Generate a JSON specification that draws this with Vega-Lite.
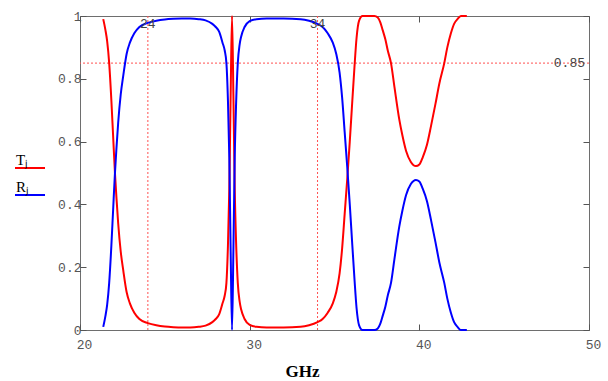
{
  "$schema": "https://vega.github.io/schema/vega-lite/v6.json",
  "width": 509,
  "height": 314,
  "autosize": "none",
  "padding": {"left": 80, "top": 16, "right": 19, "bottom": 51},
  "background": "white",
  "config": {
    "view": {"stroke": "#6e6e6e", "strokeWidth": 1},
    "axis": {
      "labelFont": "Liberation Mono",
      "labelFontSize": 13,
      "labelColor": "#555555",
      "tickColor": "#555555",
      "domain": false,
      "grid": false,
      "tickSize": -6,
      "tickWidth": 1,
      "labelFlush": false,
      "labelOverlap": false
    },
    "legend": {
      "symbolType": "stroke",
      "symbolSize": 900,
      "symbolStrokeWidth": 2,
      "labelFont": "Liberation Serif",
      "labelFontSize": 15,
      "labelColor": "#000000",
      "labelOffset": -30,
      "labelBaseline": "bottom",
      "rowPadding": 7
    }
  },
  "resolve": {"axis": {"x": "independent", "y": "independent"}},
  "datasets": {
    "curves": [
      {"f": 21.37, "v": 0.99, "s": "T"}, {"f": 21.5, "v": 0.955, "s": "T"}, {"f": 21.6, "v": 0.92, "s": "T"},
      {"f": 21.72, "v": 0.85, "s": "T"}, {"f": 21.85, "v": 0.73, "s": "T"}, {"f": 21.95, "v": 0.62, "s": "T"},
      {"f": 22.06, "v": 0.5, "s": "T"}, {"f": 22.15, "v": 0.42, "s": "T"}, {"f": 22.25, "v": 0.34, "s": "T"},
      {"f": 22.4, "v": 0.25, "s": "T"}, {"f": 22.55, "v": 0.19, "s": "T"}, {"f": 22.75, "v": 0.12, "s": "T"},
      {"f": 22.94, "v": 0.085, "s": "T"}, {"f": 23.2, "v": 0.055, "s": "T"}, {"f": 23.5, "v": 0.035, "s": "T"},
      {"f": 24.0, "v": 0.022, "s": "T"}, {"f": 24.5, "v": 0.015, "s": "T"}, {"f": 25.0, "v": 0.011, "s": "T"},
      {"f": 25.5, "v": 0.009, "s": "T"}, {"f": 26.0, "v": 0.008, "s": "T"}, {"f": 26.5, "v": 0.008, "s": "T"},
      {"f": 27.0, "v": 0.01, "s": "T"}, {"f": 27.4, "v": 0.014, "s": "T"}, {"f": 27.8, "v": 0.025, "s": "T"},
      {"f": 28.0, "v": 0.035, "s": "T"}, {"f": 28.2, "v": 0.05, "s": "T"}, {"f": 28.4, "v": 0.085, "s": "T"},
      {"f": 28.53, "v": 0.11, "s": "T"}, {"f": 28.63, "v": 0.15, "s": "T"}, {"f": 28.72, "v": 0.27, "s": "T"},
      {"f": 28.8, "v": 0.45, "s": "T"}, {"f": 28.88, "v": 0.75, "s": "T"}, {"f": 28.96, "v": 1.0, "s": "T"},
      {"f": 29.04, "v": 0.75, "s": "T"}, {"f": 29.12, "v": 0.45, "s": "T"}, {"f": 29.2, "v": 0.28, "s": "T"},
      {"f": 29.3, "v": 0.15, "s": "T"}, {"f": 29.41, "v": 0.09, "s": "T"}, {"f": 29.5, "v": 0.065, "s": "T"},
      {"f": 29.7, "v": 0.035, "s": "T"}, {"f": 30.0, "v": 0.016, "s": "T"}, {"f": 30.4, "v": 0.01, "s": "T"},
      {"f": 31.0, "v": 0.008, "s": "T"}, {"f": 32.0, "v": 0.008, "s": "T"}, {"f": 33.0, "v": 0.01, "s": "T"},
      {"f": 33.5, "v": 0.015, "s": "T"}, {"f": 34.0, "v": 0.025, "s": "T"}, {"f": 34.3, "v": 0.035, "s": "T"},
      {"f": 34.6, "v": 0.055, "s": "T"}, {"f": 34.9, "v": 0.085, "s": "T"}, {"f": 35.1, "v": 0.12, "s": "T"},
      {"f": 35.3, "v": 0.18, "s": "T"}, {"f": 35.45, "v": 0.26, "s": "T"}, {"f": 35.6, "v": 0.37, "s": "T"},
      {"f": 35.75, "v": 0.48, "s": "T"}, {"f": 35.9, "v": 0.6, "s": "T"}, {"f": 36.05, "v": 0.73, "s": "T"},
      {"f": 36.18, "v": 0.84, "s": "T"}, {"f": 36.3, "v": 0.93, "s": "T"}, {"f": 36.45, "v": 0.985, "s": "T"},
      {"f": 36.65, "v": 1.0, "s": "T"}, {"f": 37.0, "v": 1.0, "s": "T"}, {"f": 37.35, "v": 1.0, "s": "T"},
      {"f": 37.55, "v": 0.995, "s": "T"}, {"f": 37.7, "v": 0.98, "s": "T"}, {"f": 37.84, "v": 0.955, "s": "T"},
      {"f": 38.0, "v": 0.925, "s": "T"}, {"f": 38.14, "v": 0.89, "s": "T"}, {"f": 38.33, "v": 0.85, "s": "T"},
      {"f": 38.53, "v": 0.775, "s": "T"}, {"f": 38.82, "v": 0.67, "s": "T"}, {"f": 39.0, "v": 0.62, "s": "T"},
      {"f": 39.22, "v": 0.57, "s": "T"}, {"f": 39.5, "v": 0.535, "s": "T"}, {"f": 39.8, "v": 0.522, "s": "T"},
      {"f": 40.0, "v": 0.527, "s": "T"}, {"f": 40.2, "v": 0.55, "s": "T"}, {"f": 40.45, "v": 0.59, "s": "T"},
      {"f": 40.69, "v": 0.65, "s": "T"}, {"f": 40.95, "v": 0.72, "s": "T"}, {"f": 41.18, "v": 0.785, "s": "T"},
      {"f": 41.47, "v": 0.85, "s": "T"}, {"f": 41.65, "v": 0.9, "s": "T"}, {"f": 41.86, "v": 0.945, "s": "T"},
      {"f": 42.05, "v": 0.975, "s": "T"}, {"f": 42.25, "v": 0.99, "s": "T"}, {"f": 42.45, "v": 1.0, "s": "T"},
      {"f": 42.8, "v": 1.0, "s": "T"},

      {"f": 21.37, "v": 0.01, "s": "R"}, {"f": 21.5, "v": 0.045, "s": "R"}, {"f": 21.6, "v": 0.08, "s": "R"},
      {"f": 21.72, "v": 0.15, "s": "R"}, {"f": 21.85, "v": 0.27, "s": "R"}, {"f": 21.95, "v": 0.38, "s": "R"},
      {"f": 22.06, "v": 0.5, "s": "R"}, {"f": 22.15, "v": 0.58, "s": "R"}, {"f": 22.25, "v": 0.66, "s": "R"},
      {"f": 22.4, "v": 0.75, "s": "R"}, {"f": 22.55, "v": 0.81, "s": "R"}, {"f": 22.75, "v": 0.88, "s": "R"},
      {"f": 22.94, "v": 0.915, "s": "R"}, {"f": 23.2, "v": 0.945, "s": "R"}, {"f": 23.5, "v": 0.965, "s": "R"},
      {"f": 24.0, "v": 0.978, "s": "R"}, {"f": 24.5, "v": 0.985, "s": "R"}, {"f": 25.0, "v": 0.989, "s": "R"},
      {"f": 25.5, "v": 0.991, "s": "R"}, {"f": 26.0, "v": 0.992, "s": "R"}, {"f": 26.5, "v": 0.992, "s": "R"},
      {"f": 27.0, "v": 0.99, "s": "R"}, {"f": 27.4, "v": 0.986, "s": "R"}, {"f": 27.8, "v": 0.975, "s": "R"},
      {"f": 28.0, "v": 0.965, "s": "R"}, {"f": 28.2, "v": 0.95, "s": "R"}, {"f": 28.4, "v": 0.915, "s": "R"},
      {"f": 28.53, "v": 0.89, "s": "R"}, {"f": 28.63, "v": 0.85, "s": "R"}, {"f": 28.72, "v": 0.73, "s": "R"},
      {"f": 28.8, "v": 0.55, "s": "R"}, {"f": 28.88, "v": 0.25, "s": "R"}, {"f": 28.96, "v": 0.0, "s": "R"},
      {"f": 29.04, "v": 0.25, "s": "R"}, {"f": 29.12, "v": 0.55, "s": "R"}, {"f": 29.2, "v": 0.72, "s": "R"},
      {"f": 29.3, "v": 0.85, "s": "R"}, {"f": 29.41, "v": 0.91, "s": "R"}, {"f": 29.5, "v": 0.935, "s": "R"},
      {"f": 29.7, "v": 0.965, "s": "R"}, {"f": 30.0, "v": 0.984, "s": "R"}, {"f": 30.4, "v": 0.99, "s": "R"},
      {"f": 31.0, "v": 0.992, "s": "R"}, {"f": 32.0, "v": 0.992, "s": "R"}, {"f": 33.0, "v": 0.99, "s": "R"},
      {"f": 33.5, "v": 0.985, "s": "R"}, {"f": 34.0, "v": 0.975, "s": "R"}, {"f": 34.3, "v": 0.965, "s": "R"},
      {"f": 34.6, "v": 0.945, "s": "R"}, {"f": 34.9, "v": 0.915, "s": "R"}, {"f": 35.1, "v": 0.88, "s": "R"},
      {"f": 35.3, "v": 0.82, "s": "R"}, {"f": 35.45, "v": 0.74, "s": "R"}, {"f": 35.6, "v": 0.63, "s": "R"},
      {"f": 35.75, "v": 0.52, "s": "R"}, {"f": 35.9, "v": 0.4, "s": "R"}, {"f": 36.05, "v": 0.27, "s": "R"},
      {"f": 36.18, "v": 0.16, "s": "R"}, {"f": 36.3, "v": 0.07, "s": "R"}, {"f": 36.45, "v": 0.015, "s": "R"},
      {"f": 36.65, "v": 0.0, "s": "R"}, {"f": 37.0, "v": 0.0, "s": "R"}, {"f": 37.35, "v": 0.0, "s": "R"},
      {"f": 37.55, "v": 0.005, "s": "R"}, {"f": 37.7, "v": 0.02, "s": "R"}, {"f": 37.84, "v": 0.045, "s": "R"},
      {"f": 38.0, "v": 0.075, "s": "R"}, {"f": 38.14, "v": 0.11, "s": "R"}, {"f": 38.33, "v": 0.15, "s": "R"},
      {"f": 38.53, "v": 0.225, "s": "R"}, {"f": 38.82, "v": 0.33, "s": "R"}, {"f": 39.0, "v": 0.38, "s": "R"},
      {"f": 39.22, "v": 0.43, "s": "R"}, {"f": 39.5, "v": 0.465, "s": "R"}, {"f": 39.8, "v": 0.478, "s": "R"},
      {"f": 40.0, "v": 0.473, "s": "R"}, {"f": 40.2, "v": 0.45, "s": "R"}, {"f": 40.45, "v": 0.41, "s": "R"},
      {"f": 40.69, "v": 0.35, "s": "R"}, {"f": 40.95, "v": 0.28, "s": "R"}, {"f": 41.18, "v": 0.215, "s": "R"},
      {"f": 41.47, "v": 0.15, "s": "R"}, {"f": 41.65, "v": 0.1, "s": "R"}, {"f": 41.86, "v": 0.055, "s": "R"},
      {"f": 42.05, "v": 0.025, "s": "R"}, {"f": 42.25, "v": 0.01, "s": "R"}, {"f": 42.45, "v": 0.0, "s": "R"},
      {"f": 42.8, "v": 0.0, "s": "R"}
    ],
    "vmarks": [{"f": 24, "lab": "24"}, {"f": 34, "lab": "34"}],
    "hmarks": [{"f": 50, "v": 0.85, "lab": "0.85"}]
  },
  "layer": [
    {
      "data": {"name": "hmarks"},
      "mark": {"type": "rule", "color": "#ff5050", "strokeWidth": 1, "strokeDash": [2, 2]},
      "encoding": {
        "y": {"field": "v", "type": "quantitative", "scale": {"domain": [0, 1], "nice": false},
              "axis": {"orient": "right", "labels": false, "title": null, "values": [0, 0.2, 0.4, 0.6, 0.8, 1]}}
      }
    },
    {
      "data": {"name": "vmarks"},
      "mark": {"type": "rule", "color": "#ff5050", "strokeWidth": 1, "strokeDash": [2, 2]},
      "encoding": {
        "x": {"field": "f", "type": "quantitative", "scale": {"domain": [20, 50], "nice": false},
              "axis": {"orient": "top", "labels": false, "title": null, "values": [20, 30, 40, 50]}}
      }
    },
    {
      "data": {"name": "curves"},
      "transform": [{"filter": "datum.s == 'T'"}],
      "mark": {"type": "line", "strokeWidth": 2, "interpolate": "monotone"},
      "encoding": {
        "x": {"field": "f", "type": "quantitative", "scale": {"domain": [20, 50], "nice": false},
              "axis": {"orient": "bottom", "values": [20, 30, 40, 50], "labelPadding": 14, "labelOffset": 4,
                       "title": "GHz", "titleFont": "Liberation Serif", "titleFontSize": 17, "titleFontWeight": "bold",
                       "titleColor": "#000000", "titleX": 222, "titleY": 46, "titleBaseline": "alphabetic"}},
        "y": {"field": "v", "type": "quantitative", "scale": {"domain": [0, 1], "nice": false},
              "axis": {"orient": "left", "values": [0, 0.2, 0.4, 0.6, 0.8, 1], "format": "~g", "title": null, "labelPadding": 5}},
        "color": {"field": "s", "type": "nominal",
                  "scale": {"domain": ["T", "R"], "range": ["#ff0000", "#0000ff"]},
                  "legend": {"orient": "none", "legendX": -66, "legendY": 136, "title": null,
                             "labelExpr": "datum.label == 'T' ? 'Tⱼ' : 'Rⱼ'"}}
      }
    },
    {
      "data": {"name": "curves"},
      "transform": [{"filter": "datum.s == 'R'"}],
      "mark": {"type": "line", "strokeWidth": 2, "interpolate": "monotone"},
      "encoding": {
        "x": {"field": "f", "type": "quantitative", "axis": null},
        "y": {"field": "v", "type": "quantitative", "axis": null},
        "color": {"field": "s", "type": "nominal"}
      }
    },
    {
      "data": {"name": "vmarks"},
      "mark": {"type": "text", "font": "Liberation Mono", "fontSize": 13, "color": "#444444", "align": "center", "baseline": "top", "dy": 2},
      "encoding": {
        "x": {"field": "f", "type": "quantitative", "axis": null},
        "y": {"datum": 1, "type": "quantitative", "axis": null},
        "text": {"field": "lab"}
      }
    },
    {
      "data": {"name": "hmarks"},
      "mark": {"type": "text", "font": "Liberation Mono", "fontSize": 13, "color": "#444444", "align": "right", "baseline": "middle", "dx": -4},
      "encoding": {
        "x": {"field": "f", "type": "quantitative", "axis": null},
        "y": {"field": "v", "type": "quantitative", "axis": null},
        "text": {"field": "lab"}
      }
    }
  ]
}
